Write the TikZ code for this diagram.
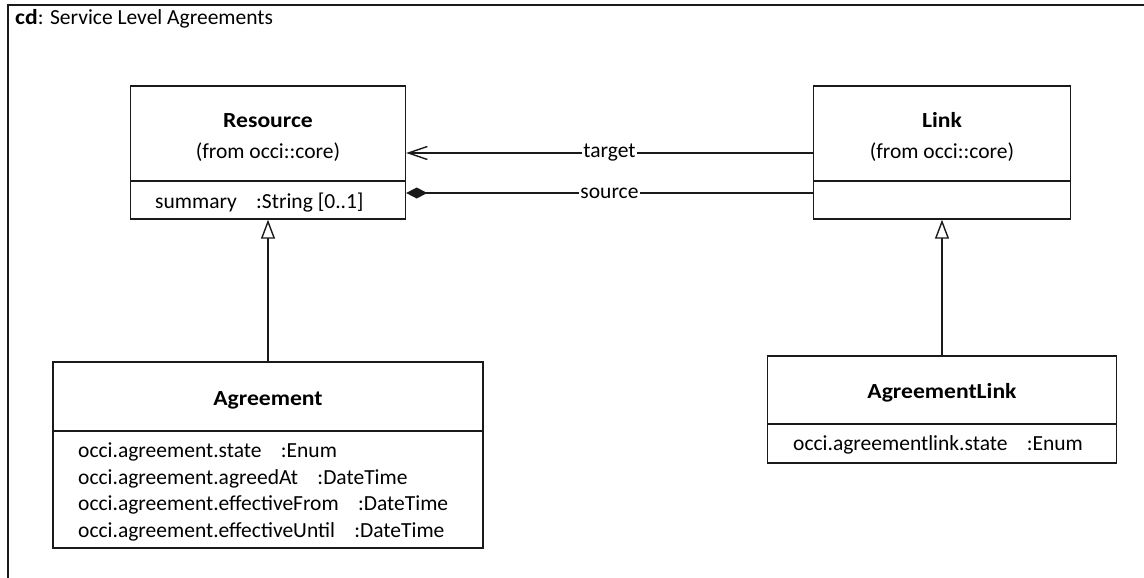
\documentclass[tikz,border=0pt]{standalone}
\usepackage{fontspec}
\setmainfont{Carlito}[BoldFeatures={FakeStretch=1.1}]
\usetikzlibrary{arrows.meta}
\definecolor{ink}{HTML}{1A1A1A}
\begin{document}
\begin{tikzpicture}[x=1pt,y=-1pt,
  every node/.style={font=\fontsize{21.5}{26}\selectfont, inner sep=0pt, text=black},
  compart/.style={draw=ink, line width=1.4pt, fill=white},
  framebox/.style={draw=ink, line width=1.8pt},
  conn/.style={draw=ink, line width=1.4pt},
  edgelabel/.style={fill=white, inner xsep=1pt, inner ysep=0pt},
  txt/.style={anchor=base},
  attr/.style={anchor=base west}]
\newcommand{\gap}{\hspace{0.9em}}
\useasboundingbox (0,0) rectangle (1144,578);

% diagram frame and its heading
\draw[framebox] (1146,5) -| (8,580);
\node[attr] (heading) at (15,25) {\textbf{cd}: Service Level Agreements};

% Resource
\node[compart, minimum width=275pt, minimum height=95pt] (reshead) at (268,133.5) {};
\node[compart, minimum width=275pt, minimum height=38pt] (resattr) at (268,200) {};
\node[txt] (resname) at (268,127) {\textbf{Resource}};
\node[txt] (resfrom) at (268,158) {(from occi::core)};
\node[attr] (ressum) at (155,208) {summary\gap:String [0..1]};

% Link
\node[compart, minimum width=257pt, minimum height=95pt] (linkhead) at (942,133.5) {};
\node[compart, minimum width=257pt, minimum height=38pt] (linkattr) at (942,200) {};
\node[txt] (linkname) at (942,127) {\textbf{Link}};
\node[txt] (linkfrom) at (942,158) {(from occi::core)};

% Agreement
\node[compart, minimum width=430pt, minimum height=69pt] (agrhead) at (268,396.5) {};
\node[compart, minimum width=430pt, minimum height=117pt] (agrattr) at (268,489.5) {};
\node[txt] (agrname) at (268,405) {\textbf{Agreement}};
\node[attr] (agrstate) at (78,457) {occi.agreement.state\gap:Enum};
\node[attr] (agrat) at (78,484) {occi.agreement.agreedAt\gap:DateTime};
\node[attr] (agrfrom) at (78,510) {occi.agreement.effectiveFrom\gap:DateTime};
\node[attr] (agruntil) at (78,537) {occi.agreement.effectiveUntil\gap:DateTime};

% AgreementLink
\node[compart, minimum width=349pt, minimum height=68pt] (alhead) at (942,390) {};
\node[compart, minimum width=349pt, minimum height=39pt] (alattr) at (942,443.5) {};
\node[txt] (alname) at (942,398) {\textbf{AgreementLink}};
\node[attr] (alstate) at (793,450) {occi.agreementlink.state\gap:Enum};

% association rows
\coordinate (tgtrow) at (0,153);
\coordinate (srcrow) at (0,193);

\draw[conn, -{Straight Barb[length=19pt,width=13pt]}]
  (linkhead.west |- tgtrow) -- node[edgelabel] (tgtlbl) {target} (reshead.east |- tgtrow);
\draw[conn, {Diamond[length=21pt,width=11pt]}-]
  (resattr.east |- srcrow) -- node[edgelabel] (srclbl) {source} (linkattr.west |- srcrow);

% generalizations
\draw[conn, -{Triangle[open,length=19pt,width=14pt,fill=white]}]
  (agrhead.north) -- (agrhead.north |- resattr.south);
\draw[conn, -{Triangle[open,length=19pt,width=14pt,fill=white]}]
  (alhead.north) -- (alhead.north |- linkattr.south);
\end{tikzpicture}
\end{document}
